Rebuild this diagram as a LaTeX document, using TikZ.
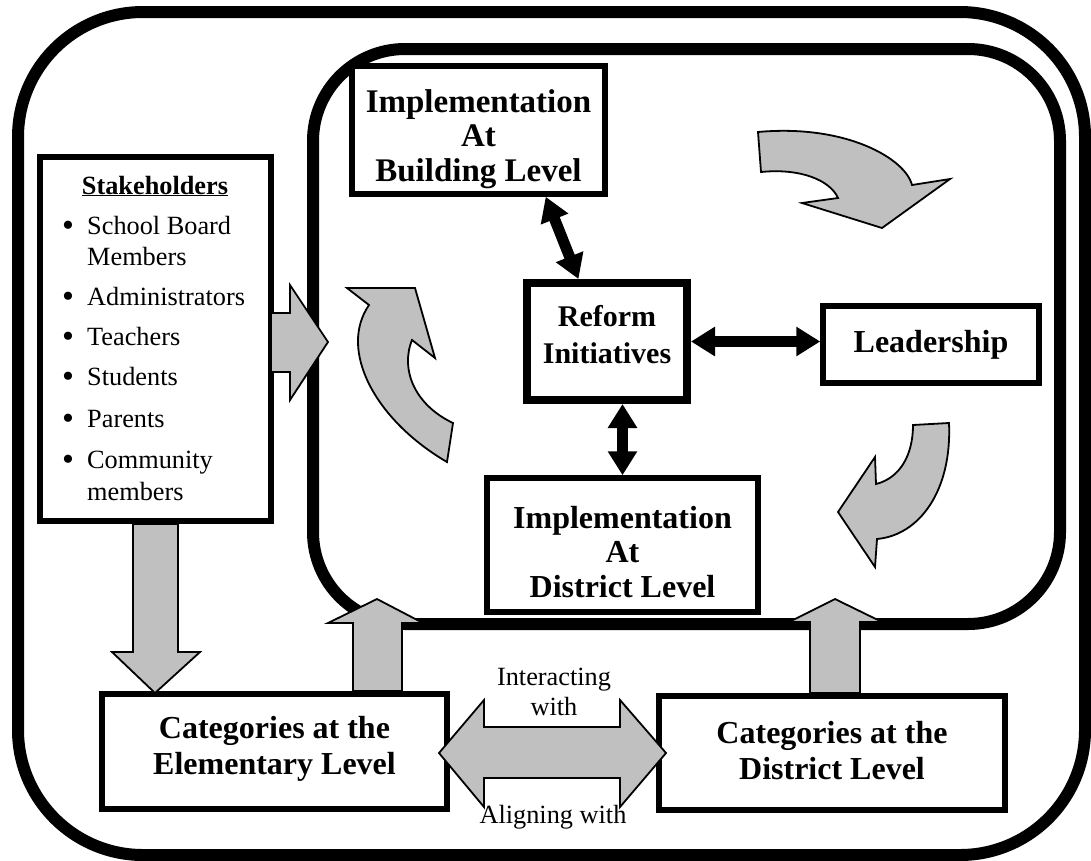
\documentclass[tikz,border=0pt]{standalone}
\usepackage{fontspec}
\setmainfont{Liberation Serif}
\usetikzlibrary{arrows.meta,calc}
\definecolor{blockgray}{HTML}{C0C0C0}
\begin{document}
\begin{tikzpicture}[x=1pt,y=-1pt,
  bigframe/.style={line width=12pt, rounded corners=#1},
  box/.style={draw, line width=5.5pt, fill=white, inner sep=0pt},
  btext/.style={align=center, inner sep=0pt, font=\fontsize{32}{36}\selectfont\bfseries},
  gblock/.style={fill=blockgray, draw=black, line width=1.8pt, line join=miter},
  dbl/.style={line width=11pt, {Triangle[length=24pt,width=28pt]}-{Triangle[length=24pt,width=28pt]}},
  txt/.style={inner sep=0pt, font=\fontsize{26.3}{31}\selectfont},
  bul/.style={inner sep=0pt, font=\fontsize{34}{31}\selectfont},
]
\useasboundingbox (0,0) rectangle (1091,860);
\fill[white] (0,0) rectangle (1091,860);

% frames
\draw[bigframe=125pt] (18,12) rectangle (1085,855);
\draw[bigframe=92pt] (313,49) rectangle (1060,624);

% boxes
\node[box, minimum width=253pt, minimum height=128pt] (build) at (478.5,130) {};
\node[box, minimum width=231pt, minimum height=364pt] (stake) at (155.5,339) {};
\node[box, line width=8pt, minimum width=160pt, minimum height=117pt] (reform) at (607,341.5) {};
\node[box, minimum width=216pt, minimum height=77pt] (leader) at (931,344.5) {};
\node[box, minimum width=271pt, minimum height=134pt] (impl) at (622.5,545) {};
\node[box, minimum width=345pt, minimum height=115pt] (elem) at (274.5,751.5) {};
\node[box, minimum width=346pt, minimum height=114pt] (distcat) at (832,753) {};

% box texts
\node[btext, font=\fontsize{33}{34.5}\selectfont\bfseries] (buildt) at ($(build.center)+(0,9)$) {Implementation\\At\\Building Level};
\node[btext, font=\fontsize{30}{37}\selectfont\bfseries] (reformt) at ($(reform.center)+(0,-7)$) {Reform\\Initiatives};
\node[btext] (leadert) at (leader.center) {Leadership};
\node[btext, font=\fontsize{32}{34.5}\selectfont\bfseries] (implt) at ($(impl.center)+(0,7)$) {Implementation\\At\\District Level};
\node[btext] (elemt) at ($(elem.center)+(0,-3)$) {Categories at the\\Elementary Level};
\node[btext] (distcatt) at ($(distcat.center)+(0,-2)$) {Categories at the\\District Level};

% stakeholders text
\node[txt, anchor=base] (sh) at (155,194) {\bfseries\underline{Stakeholders}};
\foreach \n/\y in {b1/236,b2/307,b3/347,b4/387,b5/429,b6/470}
  \node[bul, anchor=base] (\n) at (68,\y) {•};
\node[txt, anchor=base west] (l1) at (87,234) {School Board};
\node[txt, anchor=base west] (l1b) at (87,265) {Members};
\node[txt, anchor=base west] (l2) at (87,305) {Administrators};
\node[txt, anchor=base west] (l3) at (87,345) {Teachers};
\node[txt, anchor=base west] (l4) at (87,385) {Students};
\node[txt, anchor=base west] (l5) at (87,427) {Parents};
\node[txt, anchor=base west] (l6) at (87,468) {Community};
\node[txt, anchor=base west] (l6b) at (87,500) {members};

% black double arrows
\draw[dbl] ($(build.south west)!0.76!(build.south east)$) -- ($(reform.north west)!0.33!(reform.north east)$);
\draw[dbl] (reform.east) -- (reform.east -| leader.west);
\draw[dbl] (impl.north |- reform.south) -- (impl.north);

% gray block arrows
\draw[gblock] (271,313) -- (290,313) -- (290,285) -- (328,342) -- (290,400) -- (290,372) -- (271,372) -- cycle;
\draw[gblock] (133,524) -- (178,524) -- (178,652) -- (200,652) -- (155,693) -- (112,652) -- (133,652) -- cycle;
\draw[gblock] (353,691) -- (353,623) -- (328,623) -- (377,599) -- (423,623) -- (402,623) -- (402,691) -- cycle;
\draw[gblock] (810,693) -- (810,622) -- (789,622) -- (835,599) -- (882,622) -- (860,622) -- (860,693) -- cycle;
\draw[gblock] (439,753) -- (484,700) -- (484,727) -- (620,727) -- (620,700) -- (666,753)
  -- (620,807) -- (620,778) -- (484,778) -- (484,807) -- cycle;

% curved arrows
\draw[gblock] (758,132) .. controls (845,124) and (905,158) .. (912,185) -- (950,179) -- (882,228)
  -- (802,203) -- (838,198) .. controls (830,180) and (800,168) .. (761,172) -- cycle;
\draw[gblock] (447,462) .. controls (375,420) and (338,350) .. (369,305) -- (347,288) -- (415,288)
  -- (435,358) -- (412,340) .. controls (400,370) and (415,405) .. (453,423) -- cycle;
\draw[gblock] (913,425) -- (949,423) .. controls (952,490) and (920,535) .. (877,539) -- (875,567)
  -- (838,512) -- (875,457) -- (876,484) .. controls (900,478) and (913,455) .. (913,425) -- cycle;

% labels
\node[txt, anchor=base] (t1) at (554,685) {Interacting};
\node[txt, anchor=base] (t2) at (554,715) {with};
\node[txt, anchor=base] (t3) at (553,823) {Aligning with};
\end{tikzpicture}
\end{document}
